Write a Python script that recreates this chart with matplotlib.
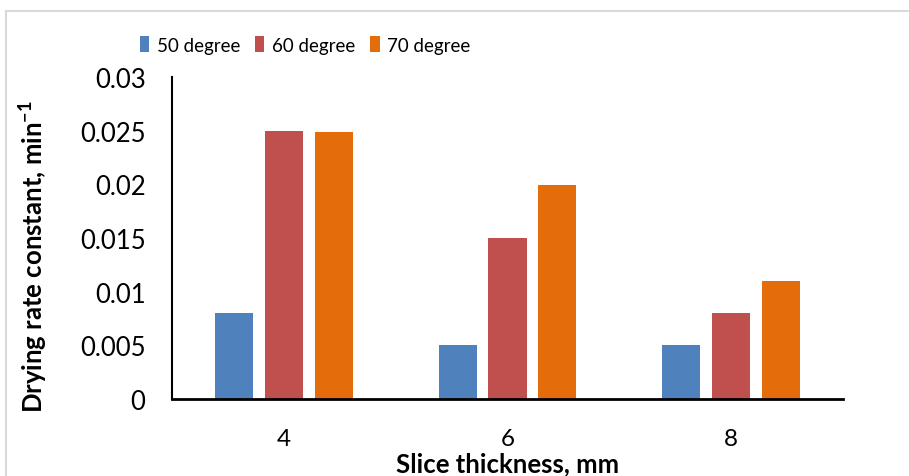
import matplotlib
matplotlib.use("Agg")
import matplotlib.pyplot as plt
from matplotlib.patches import Rectangle
import numpy as np

plt.rcParams['font.family'] = ['Lato', 'DejaVu Sans']
plt.rcParams['mathtext.fontset'] = 'custom'
plt.rcParams['mathtext.rm'] = 'Lato'
plt.rcParams['mathtext.bf'] = 'Lato:bold'

# Drying rate constants per slice thickness
espesores = ["4", "6", "8"]
series = ["50 degree", "60 degree", "70 degree"]
k_50 = [0.008, 0.005, 0.005]
k_60 = [0.025, 0.015, 0.008]
k_70 = [0.0249, 0.0199, 0.011]
colores = ["#4F81BD", "#C0504D", "#E46C0A"]

fig = plt.figure(figsize=(9.09, 4.77), dpi=100)
ax = fig.add_axes([0.1892, 0.1614, 0.7382, 0.675])

# marco gris del grafico
fig.patches.append(Rectangle((6 / 909, -0.5), 2, 1.5 - 12 / 477, transform=fig.transFigure,
                             fill=False, edgecolor="#d9d9d9", linewidth=1.5))

x = np.arange(len(espesores))
ancho = 0.17
paso = 0.223
for i, (vals, nombre, c) in enumerate(zip([k_50, k_60, k_70], series, colores)):
    ax.bar(x + (i - 1) * paso, vals, width=ancho, color=c, label=nombre)

ax.set_xlim(-0.5, 2.5)
ax.set_ylim(0, 0.03)
ax.set_yticks([0, 0.005, 0.01, 0.015, 0.02, 0.025, 0.03])
ax.set_yticklabels(["0", "0.005", "0.01", "0.015", "0.02", "0.025", "0.03"])
ax.set_xticks(x)
ax.set_xticklabels(espesores)
ax.tick_params(axis="both", length=0, labelsize=18.5)
ax.tick_params(axis="y", pad=19)
ax.tick_params(axis="x", pad=21, labelsize=17.5)

for lado in ["top", "right"]:
    ax.spines[lado].set_visible(False)
ax.spines["left"].set_linewidth(1.5)
ax.spines["bottom"].set_linewidth(2)

ax.set_ylabel(r"Drying rate constant, min$^{\mathbf{-1}}$", fontsize=18.5, fontweight="bold")
ax.yaxis.set_label_coords(-0.182, 0.444)
ax.set_xlabel("Slice thickness, mm", fontsize=18.5, fontweight="bold")
ax.xaxis.set_label_coords(0.5, -0.163)

fig.legend(loc="center", bbox_to_anchor=(305 / 909, 1 - 46 / 477), ncol=3, frameon=False,
           fontsize=13.5, handlelength=0.5, handleheight=0.95, handletextpad=0.4,
           columnspacing=0.8, borderaxespad=0, borderpad=0)

fig.savefig("out.png", dpi=100)
